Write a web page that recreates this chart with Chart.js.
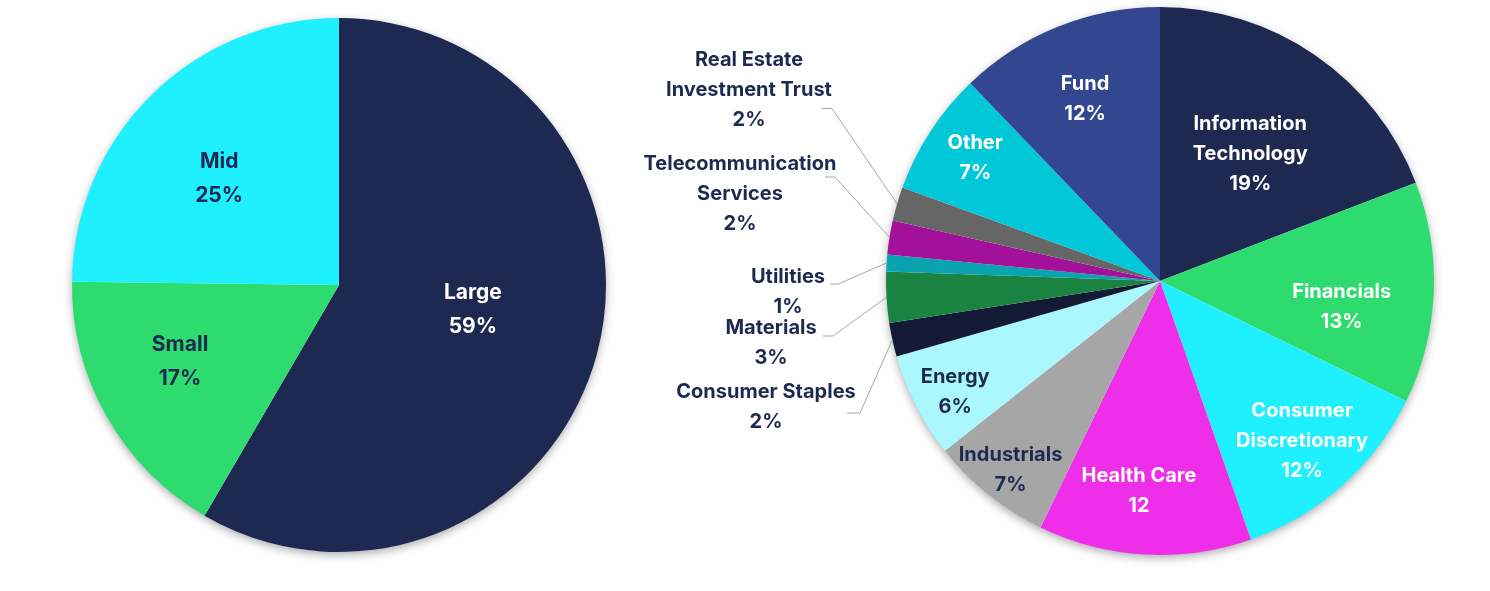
<!DOCTYPE html>
<html><head><meta charset="utf-8">
<script src="https://cdn.jsdelivr.net/npm/chart.js@4.4.1/dist/chart.umd.min.js"></script>
<style>
html,body{margin:0;padding:0;background:#fff;width:1490px;height:591px;overflow:hidden}
#l{position:absolute;left:0;top:0;width:680px;height:591px}
#r{position:absolute;left:600px;top:0;width:890px;height:591px}
</style></head><body>
<div id="l"><canvas id="c1"></canvas></div>
<div id="r"><canvas id="c2"></canvas></div>
<script>
// ---- data ----
const capLabels = ['Large', 'Small', 'Mid'];
const capValues = [58.4, 16.8, 24.8];
const capPctText = ['59%', '17%', '25%'];

const sectorLabels = [
  ['Information', 'Technology'], 'Financials', ['Consumer', 'Discretionary'], 'Health Care',
  'Industrials', 'Energy', 'Consumer Staples', 'Materials', 'Utilities',
  ['Telecommunication', 'Services'], ['Real Estate', 'Investment Trust'], 'Other', 'Fund'
];
const sectorValues = [19.2, 13.1, 12.4, 12.6, 7.2, 6.2, 2.0, 3.0, 1.0, 2.0, 2.0, 7.3, 12.2];
const sectorPctText = ['19%', '13%', '12%', '12', '7%', '6%', '2%', '3%', '1%', '2%', '2%', '7%', '12%'];

// ---- styling ----
const DARK = '#1e2951';
const WHITE = '#ffffff';
const capColors = ['#1e2951', '#2ddb6e', '#1ff0ff'];
const sectorColors = ['#1e2951', '#2ddb6e', '#1ff0ff', '#ee2ee8', '#a6a6a6', '#aaf8fd',
  '#131a33', '#1b8341', '#0aa3b0', '#a3119b', '#666666', '#00c8d9', '#32478f'];

const FONT = 'Inter, "Noto Sans", sans-serif';

const shadowPlugin = {
  id: 'pieShadow',
  beforeDatasetsDraw(chart) {
    const arc = chart.getDatasetMeta(0).data[0];
    if (!arc) return;
    const { x, y, outerRadius } = arc.getProps(['x', 'y', 'outerRadius'], true);
    const ctx = chart.ctx;
    ctx.save();
    ctx.shadowColor = 'rgba(0,0,0,0.35)';
    ctx.shadowBlur = 10;
    ctx.shadowOffsetY = 3;
    ctx.beginPath();
    ctx.arc(x, y, outerRadius - 0.5, 0, Math.PI * 2);
    ctx.fillStyle = '#ffffff';
    ctx.fill();
    ctx.restore();
  }
};

const labelPlugin = {
  id: 'pieLabels',
  afterDatasetsDraw(chart, args, opts) {
    const ctx = chart.ctx;
    const meta = chart.getDatasetMeta(0);
    const labels = chart.data.labels;
    meta.data.forEach((arc, i) => {
      const p = opts.place[i];
      const lines = [].concat(labels[i], opts.pct[i]);
      const { x, y, startAngle, endAngle, outerRadius } =
        arc.getProps(['x', 'y', 'startAngle', 'endAngle', 'outerRadius'], true);
      const mid = (startAngle + endAngle) / 2;
      let cx, cy;
      if (p.out) {
        cx = x + p.dx; cy = y + p.dy;
        ctx.save();
        ctx.strokeStyle = '#a6a6a6';
        ctx.lineWidth = 1;
        ctx.beginPath();
        ctx.moveTo(x + Math.cos(mid) * outerRadius, y + Math.sin(mid) * outerRadius);
        ctx.lineTo(cx + p.elbow[0], cy + p.elbow[1]);
        ctx.lineTo(cx + p.end[0], cy + p.end[1]);
        ctx.stroke();
        ctx.restore();
      } else {
        const a = mid + p.da * Math.PI / 180;
        cx = x + Math.cos(a) * outerRadius * p.f;
        cy = y + Math.sin(a) * outerRadius * p.f;
      }
      ctx.save();
      ctx.font = '700 ' + opts.size + 'px ' + FONT;
      ctx.fillStyle = p.c || DARK;
      ctx.textAlign = 'center';
      ctx.textBaseline = 'middle';
      const n = lines.length;
      lines.forEach((t, k) => {
        ctx.fillText(t, cx, cy - (n - 1) * opts.lh / 2 + k * opts.lh);
      });
      ctx.restore();
    });
  }
};

function pieOptions(padding, labelOpts) {
  return {
    responsive: true,
    maintainAspectRatio: false,
    animation: false,
    layout: { padding },
    elements: { arc: { borderWidth: 0, hoverOffset: 0, offset: 0 } },
    plugins: {
      legend: { display: false },
      tooltip: { enabled: false },
      pieLabels: labelOpts
    }
  };
}

new Chart(document.getElementById('c1'), {
  type: 'pie',
  data: { labels: capLabels, datasets: [{ data: capValues, backgroundColor: capColors }] },
  options: pieOptions({ left: 72, right: 74, top: 18, bottom: 39 }, {
    pct: capPctText, size: 21, lh: 34,
    place: [
      { da: -4.5, f: 0.51, c: WHITE },
      { da: 3.9, f: 0.66 },
      { da: -3.8, f: 0.60 }
    ]
  }),
  plugins: [shadowPlugin, labelPlugin]
});

new Chart(document.getElementById('c2'), {
  type: 'pie',
  data: { labels: sectorLabels, datasets: [{ data: sectorValues, backgroundColor: sectorColors }] },
  options: pieOptions({ left: 286, right: 56, top: 7, bottom: 36 }, {
    pct: sectorPctText, size: 20, lh: 30,
    place: [
      { da: 0.8, f: 0.57, c: WHITE },
      { da: 5.7, f: 0.67, c: WHITE },
      { da: 0, f: 0.78, c: WHITE },
      { da: 2.5, f: 0.77, c: WHITE },
      { da: -0.5, f: 0.88 },
      { da: -1.3, f: 0.85 },
      { out: true, dx: -394, dy: 126, elbow: [94, 6], end: [81, 6] },
      { out: true, dx: -389, dy: 62, elbow: [62, -7], end: [52, -7] },
      { out: true, dx: -372, dy: 11, elbow: [50, -8], end: [42, -8] },
      { out: true, dx: -420, dy: -87, elbow: [95, -17], end: [85, -17] },
      { out: true, dx: -411, dy: -191, elbow: [83, 18.5], end: [73, 18.5] },
      { da: 0.6, f: 0.81, c: WHITE },
      { da: -0.4, f: 0.72, c: WHITE }
    ]
  }),
  plugins: [shadowPlugin, labelPlugin]
});
</script>
</body></html>
